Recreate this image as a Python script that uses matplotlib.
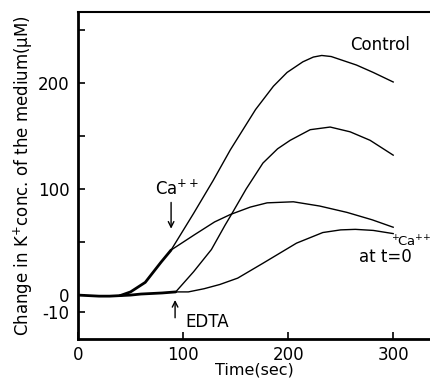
import matplotlib
matplotlib.use("Agg")
import matplotlib.pyplot as plt

plt.rcParams["font.family"] = "DejaVu Sans"
plt.rcParams["mathtext.default"] = "regular"

# shared part before the branches (all runs look the same here)
base_t = [0, 10, 20, 30, 40, 50, 60, 70, 80, 93]
base_y = [0, -0.5, -1, -1, -0.5, 0, 1, 1.5, 2, 3]
rise_t = [40, 50, 64, 79, 88.6]
rise_y = [-0.5, 3, 12, 31, 42.5]

# Control
control_t = [88.6, 110, 128.6, 145, 169, 186, 199, 214, 224, 232, 241, 250, 265, 281, 300]
control_y = [42.5, 77, 108, 137, 175, 197, 210, 220, 224.5, 226, 225, 222, 217, 210, 201]

# Ca++ added at ~90 s
ca_t = [88.6, 111, 130, 145, 164, 180, 205, 230, 256, 280, 300]
ca_y = [42.5, 57, 69, 76, 83, 87, 88, 84, 78, 71, 64]

# EDTA added at ~93 s
edta_t = [93, 110, 127, 140, 146, 160, 176, 190, 202, 221, 240, 259, 278, 300]
edta_y = [3, 22, 43, 66, 76, 100, 124.5, 138, 146, 156, 158.5, 154, 146, 132]

# Ca++ at t=0
ca0_t = [93, 105, 120, 135, 152, 176, 208, 233, 250, 264, 281, 300]
ca0_y = [3, 3, 6, 10, 16, 30, 49, 59, 61.5, 62, 61, 58]

y_ticks = [-16, 0, 100, 200]
y_tick_labels = ["-10", "0", "100", "200"]
x_ticks = [0, 100, 200, 300]

fig = plt.figure(figsize=(4.31, 3.81), dpi=100)
ax = fig.add_axes([0.181, 0.110, 0.819, 0.8585])

ax.plot(control_t, control_y, color="black", lw=1.0)
ax.plot(ca_t, ca_y, color="black", lw=1.0)
ax.plot(edta_t, edta_y, color="black", lw=1.0)
ax.plot(ca0_t, ca0_y, color="black", lw=1.0)
ax.plot(base_t, base_y, color="black", lw=2.0, solid_capstyle="round")
ax.plot(rise_t, rise_y, color="black", lw=2.0, solid_capstyle="round")

# arrows
ax.annotate("", xy=(88.6, 60), xytext=(88.6, 90),
            arrowprops=dict(arrowstyle="->", color="black", lw=1.0))
ax.annotate("", xy=(92.4, -2), xytext=(92.4, -24),
            arrowprops=dict(arrowstyle="->", color="black", lw=1.0))

fs = 12
ax.text(259, 236, "Control", fontsize=fs, ha="left", va="center")
ax.text(73, 95, "Ca$^{++}$", fontsize=fs, ha="left", va="baseline")
ax.text(102, -30, "EDTA", fontsize=fs, ha="left", va="baseline")
ax.text(298, 46, r"$^{+}\!$Ca$^{+\!+}$", fontsize=9.5, ha="left",
        va="baseline", clip_on=False)
ax.text(267, 31, "at t=0", fontsize=fs, ha="left", va="baseline")

ax.set_xlim(0, 336)
ax.set_ylim(-41.5, 267)
ax.set_xticks(x_ticks)
ax.set_yticks(y_ticks)
ax.set_yticklabels(y_tick_labels)
ax.set_yticks([50, 150, 250], minor=True)

ax.spines["right"].set_visible(False)
ax.spines["left"].set_linewidth(2.0)
ax.spines["bottom"].set_linewidth(2.0)
ax.spines["top"].set_linewidth(1.5)

ax.tick_params(direction="in", length=5, width=1.2, labelsize=fs, pad=6)
ax.tick_params(which="minor", direction="in", length=5, width=1.2)
ax.tick_params(axis="x", pad=5)

ax.set_xlabel("Time(sec)", fontsize=11.5, labelpad=-1)
ax.set_ylabel("Change in K$^{+}$conc. of the medium(μM)", fontsize=fs,
              labelpad=2)

fig.savefig("out.png", dpi=100)
